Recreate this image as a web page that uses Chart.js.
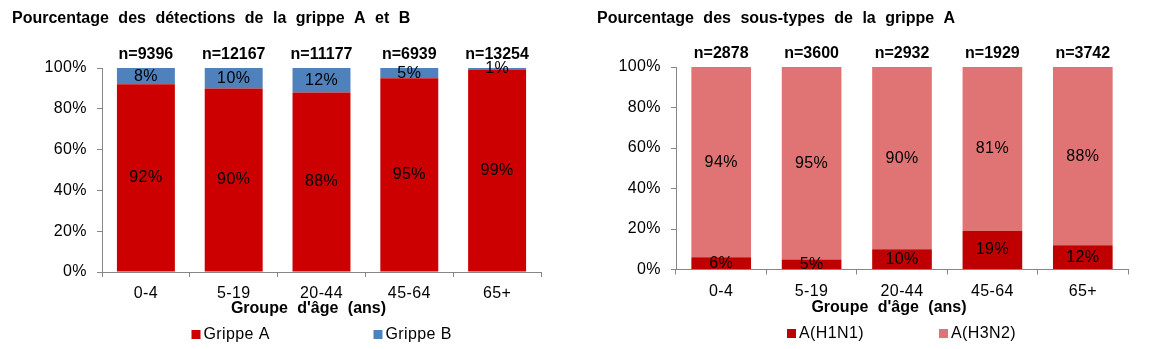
<!DOCTYPE html>
<html>
<head>
<meta charset="utf-8">
<script src="https://cdn.jsdelivr.net/npm/chart.js@4/dist/chart.umd.min.js"></script>
<style>
  html, body { margin: 0; padding: 0; background: #fff; }
  #wrap { position: relative; width: 1168px; height: 349px; }
  .panel { position: absolute; top: 0; width: 584px; height: 349px; }
</style>
</head>
<body>
<div id="wrap">
  <div class="panel" style="left:0"><canvas id="detections" width="584" height="349"></canvas></div>
  <div class="panel" style="left:584px"><canvas id="subtypes" width="584" height="349"></canvas></div>
</div>
<script>
// Age groups shared by both panels
const ageGroups = ['0-4', '5-19', '20-44', '45-64', '65+'];
const yTicks = [0, 20, 40, 60, 80, 100];

// Influenza A / B detections (%), with sample sizes
const detectionCounts = [9396, 12167, 11177, 6939, 13254];
const grippeA = [92, 90, 88, 95, 99];
const grippeB = [8, 10, 12, 5, 1];

// Influenza A subtypes (%), with sample sizes
const subtypeCounts = [2878, 3600, 2932, 1929, 3742];
const h1n1 = [6, 5, 10, 19, 12];
const h3n2 = [94, 95, 90, 81, 88];

const FONT = "'Liberation Sans', Arial, sans-serif";
const AXIS_GREY = '#868686';
const SPACING = '0.4px';

// Draws the panel title, n= counts, in-bar percentages, axis title and legend
const panelText = {
  id: 'panelText',
  beforeDraw(chart) {
    chart.ctx.letterSpacing = SPACING;
  },
  afterDatasetsDraw(chart, args, opts) {
    const ctx = chart.ctx;
    const area = chart.chartArea;
    const xs = chart.scales.x;
    ctx.save();
    ctx.fillStyle = '#000';

    // percentage inside each segment
    ctx.letterSpacing = SPACING;
    ctx.font = '16px ' + FONT;
    ctx.textAlign = 'center';
    ctx.textBaseline = 'middle';
    chart.data.datasets.forEach((ds, di) => {
      chart.getDatasetMeta(di).data.forEach((bar, i) => {
        ctx.fillText(ds.data[i] + '%', bar.x, (bar.y + bar.base) / 2);
      });
    });

    // legend
    const cx = (area.left + area.right) / 2;
    ctx.textAlign = 'left';
    ctx.textBaseline = 'alphabetic';
    chart.data.datasets.forEach((ds, di) => {
      const bx = cx + opts.legendOffsets[di];
      ctx.fillStyle = ds.backgroundColor;
      ctx.fillRect(bx, opts.legendY - 9, 9, 9);
      ctx.fillStyle = '#000';
      ctx.fillText(ds.label, bx + 12, opts.legendY);
    });

    // bold texts: sample sizes, axis title, panel title
    ctx.letterSpacing = '0px';
    ctx.font = 'bold 16px ' + FONT;
    ctx.textAlign = 'center';
    opts.counts.forEach((n, i) => {
      ctx.fillText('n=' + n, xs.getPixelForValue(i), area.top - 9);
    });

    ctx.wordSpacing = opts.wordSpacing;
    ctx.fillText(opts.axisTitle, (area.left + area.right) / 2 + opts.axisTitleShift, opts.axisTitleY);

    ctx.textAlign = 'left';
    ctx.fillText(opts.title, opts.titleX, 23);
    ctx.wordSpacing = '0px';
    ctx.restore();
  }
};

function makeChart(id, cfg) {
  return new Chart(document.getElementById(id), {
    type: 'bar',
    data: {
      labels: ageGroups,
      datasets: cfg.datasets.map(d => ({
        label: d.label,
        data: d.data,
        backgroundColor: d.color,
        borderWidth: 0,
        barPercentage: 0.66,
        categoryPercentage: 1
      }))
    },
    plugins: [panelText],
    options: {
      responsive: false,
      animation: false,
      layout: { padding: { left: 0, right: cfg.padRight, top: cfg.padTop, bottom: 0 } },
      plugins: {
        legend: { display: false },
        title: { display: false },
        tooltip: { enabled: false },
        panelText: cfg.text
      },
      scales: {
        x: {
          stacked: true,
          border: { color: AXIS_GREY, width: 1 },
          grid: { offset: true, drawOnChartArea: false, drawTicks: true, tickLength: 5, color: AXIS_GREY },
          ticks: { color: '#000', font: { family: FONT, size: 16 }, padding: 7, maxRotation: 0, autoSkip: false },
          afterFit(s) { s.height = cfg.xHeight; }
        },
        y: {
          stacked: true,
          min: yTicks[0],
          max: yTicks[yTicks.length - 1],
          border: { color: AXIS_GREY, width: 1 },
          grid: { drawOnChartArea: false, drawTicks: true, tickLength: 5, color: AXIS_GREY },
          afterBuildTicks(s) { s.ticks = yTicks.map(v => ({ value: v })); },
          ticks: { color: '#000', font: { family: FONT, size: 16 }, padding: 10, callback: v => v + '%' },
          afterFit(s) { s.width = cfg.yWidth; }
        }
      }
    }
  });
}

makeChart('detections', {
  datasets: [
    { label: 'Grippe A', data: grippeA, color: '#CC0000' },
    { label: 'Grippe B', data: grippeB, color: '#4F81BD' }
  ],
  yWidth: 102, padRight: 43, padTop: 68, xHeight: 77,
  text: {
    title: 'Pourcentage des détections de la grippe A et B',
    titleX: 12, wordSpacing: '5px',
    counts: detectionCounts,
    axisTitle: "Groupe d'âge (ans)", axisTitleShift: -13, axisTitleY: 313,
    legendOffsets: [-130, 52], legendY: 339
  }
});

makeChart('subtypes', {
  datasets: [
    { label: 'A(H1N1)', data: h1n1, color: '#C00000' },
    { label: 'A(H3N2)', data: h3n2, color: '#E07474' }
  ],
  yWidth: 92, padRight: 40, padTop: 67, xHeight: 79.5,
  text: {
    title: 'Pourcentage des sous-types de la grippe A',
    titleX: 13, wordSpacing: '5px',
    counts: subtypeCounts,
    axisTitle: "Groupe d'âge (ans)", axisTitleShift: -13, axisTitleY: 312,
    legendOffsets: [-115, 37], legendY: 338
  }
});
</script>
</body>
</html>
